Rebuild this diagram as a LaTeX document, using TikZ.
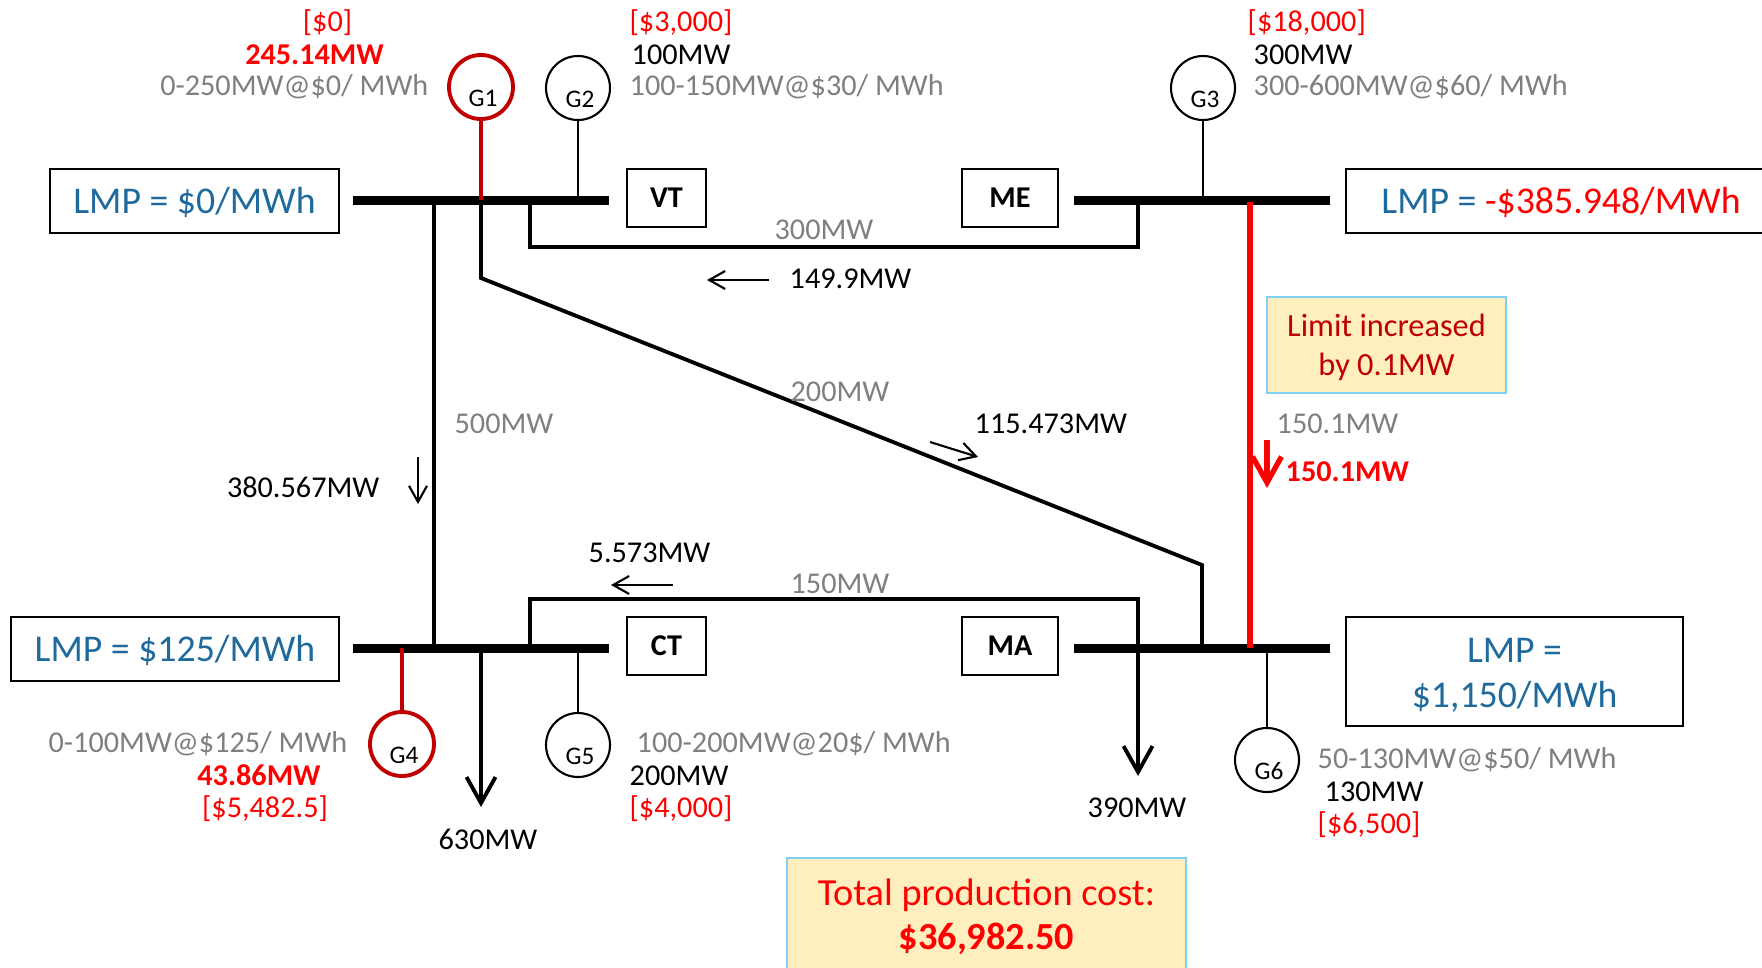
\documentclass[tikz,border=0pt]{standalone}
\usepackage{fontspec}
\setmainfont{Carlito}
\usepackage{xcolor}
\usetikzlibrary{arrows.meta}
\definecolor{lmpblue}{HTML}{1F6A9C}
\definecolor{limitred}{HTML}{FF0000}
\definecolor{darkred}{HTML}{C00000}
\definecolor{capgray}{HTML}{7F7F7F}
\definecolor{notefill}{HTML}{FFEFBF}
\definecolor{noteline}{HTML}{7FD0F2}

\begin{document}
\begin{tikzpicture}[
    x=1cm,y=1cm,
    bus/.style={fill=black, inner sep=0pt, minimum width=2.56cm, minimum height=0.09cm},
    area/.style={draw, line width=0.6pt, inner sep=0pt, minimum height=0.58cm, font=\fontsize{8.6}{10}\selectfont\bfseries},
    lmp/.style={draw, line width=0.6pt, inner sep=0pt, minimum height=0.64cm, align=center,
                text=lmpblue, font=\fontsize{10.75}{12.8}\selectfont},
    note/.style={draw=noteline, fill=notefill, line width=0.7pt, inner sep=0pt, align=center},
    gen/.style={draw, circle, line width=0.6pt, fill=white, inner sep=0pt, minimum size=0.64cm},
    genred/.style={gen, draw=darkred, line width=1.1pt},
    gentxt/.style={font=\fontsize{7.2}{8}\selectfont, inner sep=0pt, yshift=-0.11cm, xshift=0.02cm},
    txt/.style={font=\fontsize{8.6}{10}\selectfont, inner sep=0pt, yshift=-0.015cm},
    rating/.style={txt, text=capgray},
    cost/.style={txt, text=limitred},
    hot/.style={txt, text=limitred, font=\fontsize{8.6}{10}\selectfont\bfseries},
    tline/.style={line width=1.1pt},
    stub/.style={line width=0.55pt},
    flow/.style={-{Straight Barb[length=1.6mm,width=1.8mm]}, line width=0.6pt},
    load/.style={-{Straight Barb[length=2.6mm,width=2.9mm]}, line width=1.1pt}
]
\useasboundingbox (0,0) rectangle (17.62,-9.67);

% buses
\node[bus] (vtbus) at (4.81,-2.00) {};
\node[bus] (mebus) at (12.02,-2.00) {};
\node[bus] (ctbus) at (4.81,-6.48) {};
\node[bus] (mabus) at (12.02,-6.48) {};

\node[area, minimum width=0.79cm] (vt) at (6.665,-1.98) {VT};
\node[area, minimum width=0.96cm] (me) at (10.10,-1.98) {ME};
\node[area, minimum width=0.79cm] (ct) at (6.665,-6.46) {CT};
\node[area, minimum width=0.96cm] (ma) at (10.10,-6.46) {MA};

\node[lmp, minimum width=2.885cm] (lmpvt) at (1.945,-2.01) {\rule{0pt}{0.30cm}LMP = \$0/MWh};
\node[lmp, minimum width=4.30cm] (lmpme) at (15.61,-2.01) {\rule{0pt}{0.30cm}LMP = \textcolor{limitred}{-\$385.948/MWh}};
\node[lmp, minimum width=3.285cm] (lmpct) at (1.75,-6.49) {\rule{0pt}{0.30cm}LMP = \$125/MWh};
\node[lmp, minimum width=3.37cm, minimum height=1.09cm] (lmpma) at (15.145,-6.715) {\rule{0pt}{0.31cm}LMP =\\\$1,150/MWh};

% generators
\node[genred, label={[gentxt]center:G1}] (gone) at (4.81,-0.87) {};
\node[gen, label={[gentxt]center:G2}] (gtwo) at (5.78,-0.88) {};
\node[gen, label={[gentxt]center:G3}] (gthree) at (12.03,-0.88) {};
\node[genred, label={[gentxt]center:G4}] (gfour) at (4.02,-7.44) {};
\node[gen, label={[gentxt]center:G5}] (gfive) at (5.78,-7.45) {};
\node[gen, label={[gentxt]center:G6}] (gsix) at (12.67,-7.60) {};

% lines
\coordinate (bend) at (4.81,-2.78);
\coordinate (maend) at (12.02,-5.65);
\draw[tline] (4.34,-2.00) -- (4.34,-6.48);
\draw[tline] (5.30,-2.00) |- (11.38,-2.47) -- (11.38,-2.00);
\draw[tline] (vtbus.center) -- (bend) -- (maend) -- (maend |- mabus.center);
\draw[tline] (5.30,-6.48) |- (11.38,-5.99) -- (11.38,-6.48);

% generator stubs
\draw[darkred, line width=0.9pt] (gone.south) -- (gone.south |- vtbus.center);
\draw[darkred, line width=1.1pt] (gfour.north) -- (gfour.north |- ctbus.center);
\draw[stub] (gtwo.south) -- (gtwo.south |- vtbus.center);
\draw[stub] (gthree.south) -- (gthree.south |- mebus.center);
\draw[stub] (gfive.north) -- (gfive.north |- ctbus.center);
\draw[stub] (gsix.north) -- (gsix.north |- mabus.center);

% congested line
\coordinate (limtop) at (12.50,-2.02);
\coordinate (limbot) at (12.50,-6.48);
\draw[limitred, line width=1.7pt] (limtop) -- (limbot);

% loads
\coordinate (ctload) at (4.81,-8.07);
\coordinate (maload) at (11.38,-7.76);
\draw[load] (4.81,-6.48) -- (ctload);
\draw[load] (11.38,-6.48) -- (maload);
\node[txt] (ctmw) at (4.88,-8.38) {630MW};
\node[txt] (mamw) at (11.37,-8.06) {390MW};

% flow arrows
\coordinate (fa) at (7.69,-2.80);
\coordinate (fb) at (7.07,-2.80);
\draw[flow] (fa) -- (fb);
\coordinate (fc) at (9.30,-4.42);
\coordinate (fd) at (9.78,-4.57);
\draw[flow] (fc) -- (fd);
\coordinate (fe) at (4.18,-4.57);
\coordinate (ff) at (4.18,-5.04);
\draw[flow] (fe) -- (ff);
\coordinate (fg) at (6.73,-5.85);
\coordinate (fh) at (6.11,-5.85);
\draw[flow] (fg) -- (fh);
\coordinate (fi) at (12.67,-4.40);
\coordinate (fj) at (12.67,-4.88);
\draw[-{Straight Barb[length=2.6mm,width=2.9mm]}, limitred, line width=1.5pt] (fi) -- (fj);

% line limits and flows
\node[rating] (limvtme) at (8.24,-2.28) {300MW};
\node[txt, anchor=west] (flvtme) at (7.89,-2.77) {149.9MW};
\node[rating] (limvtma) at (8.40,-3.90) {200MW};
\node[txt, anchor=west] (flvtma) at (9.74,-4.22) {115.473MW};
\node[rating] (limvtct) at (5.04,-4.22) {500MW};
\node[txt, anchor=east] (flvtct) at (3.80,-4.86) {380.567MW};
\node[rating] (limctma) at (8.40,-5.82) {150MW};
\node[txt, anchor=west] (flctma) at (5.88,-5.51) {5.573MW};
\node[rating, anchor=west] (limmema) at (12.76,-4.22) {150.1MW};
\node[hot, anchor=west] (flmema) at (12.85,-4.70) {150.1MW};

% offers
\node[cost] (costone) at (3.275,-0.21) {[\$0]};
\node[hot] (mwone) at (3.145,-0.53) {245.14MW};
\node[rating, anchor=east] (capone) at (4.29,-0.85) {0-250MW@\$0/ MWh};
\node[cost, anchor=west] (costtwo) at (6.29,-0.21) {[\$3,000]};
\node[txt, anchor=west] (mwtwo) at (6.31,-0.53) {100MW};
\node[rating, anchor=west] (captwo) at (6.29,-0.85) {100-150MW@\$30/ MWh};
\node[cost, anchor=west] (costthree) at (12.47,-0.21) {[\$18,000]};
\node[txt, anchor=west] (mwthree) at (12.53,-0.53) {300MW};
\node[rating, anchor=west] (capthree) at (12.53,-0.85) {300-600MW@\$60/ MWh};
\node[rating, anchor=east] (capfour) at (3.48,-7.42) {0-100MW@\$125/ MWh};
\node[hot] (mwfour) at (2.59,-7.74) {43.86MW};
\node[cost] (costfour) at (2.65,-8.07) {[\$5,482.5]};
\node[rating, anchor=west] (capfive) at (6.36,-7.42) {100-200MW@20\$/ MWh};
\node[txt, anchor=west] (mwfive) at (6.29,-7.74) {200MW};
\node[cost, anchor=west] (costfive) at (6.29,-8.07) {[\$4,000]};
\node[rating, anchor=west] (capsix) at (13.17,-7.58) {50-130MW@\$50/ MWh};
\node[txt, anchor=west] (mwsix) at (13.24,-7.90) {130MW};
\node[cost, anchor=west] (costsix) at (13.17,-8.23) {[\$6,500]};

% notes
\node[note, minimum width=2.39cm, minimum height=0.96cm, text=darkred,
      font=\fontsize{9.2}{11}\selectfont] (limit) at (13.865,-3.45) {\rule{0pt}{0.27cm}Limit increased\\by 0.1MW};
\node[note, minimum width=3.985cm, minimum height=1.12cm, text=limitred,
      font=\fontsize{10.9}{12.5}\selectfont] (total) at (9.865,-9.14) {\rule{0pt}{0.33cm}Total production cost:\\\textbf{\$36,982.50}};
\end{tikzpicture}
\end{document}
